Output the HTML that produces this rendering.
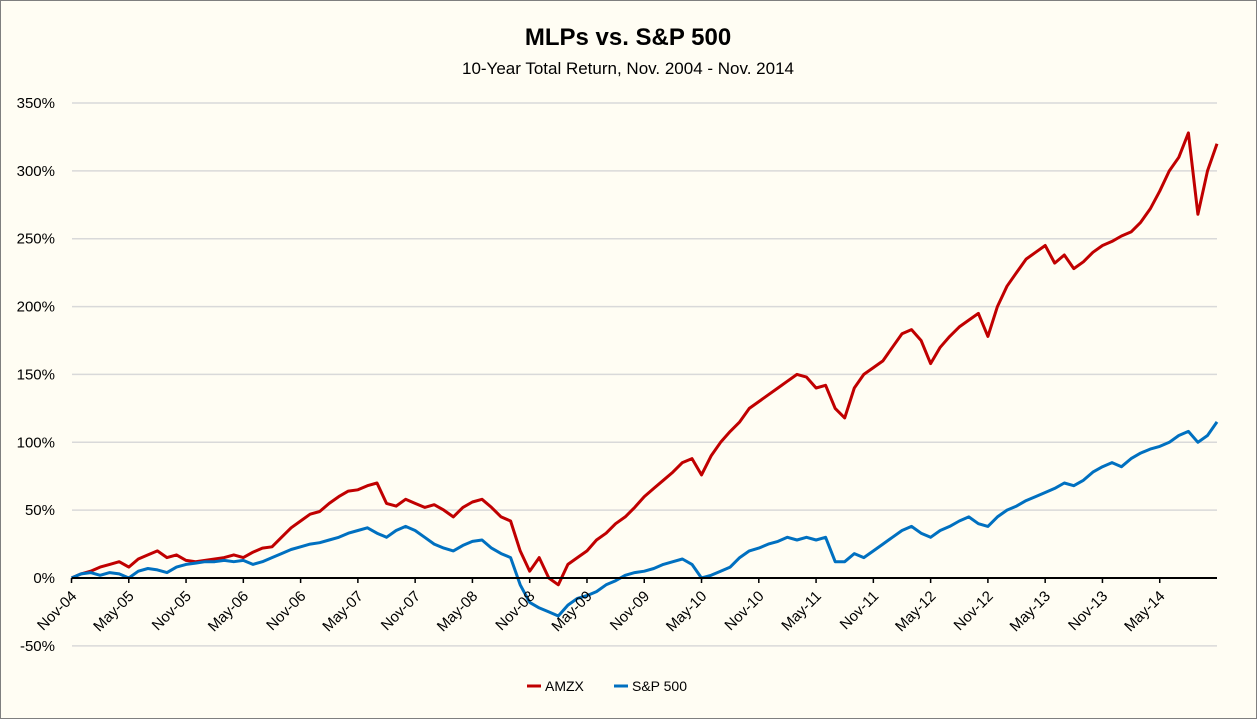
<!DOCTYPE html>
<html><head><meta charset="utf-8"><style>
html,body{margin:0;padding:0;background:#fffdf3;}
svg{display:block;font-family:"Liberation Sans",Calibri,sans-serif;}
</style></head><body>
<svg id="chart" width="1257" height="719">
<rect x="0.5" y="0.5" width="1256" height="718" fill="#fffdf3" stroke="#7f7f7f"/>
<text x="628" y="45" text-anchor="middle" font-size="24" font-weight="bold" fill="#000">MLPs vs. S&amp;P 500</text>
<text x="628" y="74" text-anchor="middle" font-size="17" fill="#000">10-Year Total Return, Nov. 2004 - Nov. 2014</text>
<g id="grid"></g><g id="ylabels"></g><g id="series"></g><g id="xaxis"></g>
<g>
<line x1="527" y1="686" x2="541" y2="686" stroke="#c00000" stroke-width="3"/>
<text x="545" y="691" font-size="14">AMZX</text>
<line x1="614" y1="686" x2="628" y2="686" stroke="#0070c0" stroke-width="3"/>
<text x="632" y="691" font-size="14">S&amp;P 500</text>
</g>
</svg>
<script>
const xTickLabels=["Nov-04","May-05","Nov-05","May-06","Nov-06","May-07","Nov-07","May-08","Nov-08","May-09","Nov-09","May-10","Nov-10","May-11","Nov-11","May-12","Nov-12","May-13","Nov-13","May-14"];
const yTicks=[-50,0,50,100,150,200,250,300,350];
const amzx=[0,3,5,8,10,12,8,14,17,20,15,17,13,12,13,14,15,17,15,19,22,23,30,37,42,47,49,55,60,64,65,68,70,55,53,58,55,52,54,50,45,52,56,58,52,45,42,20,5,15,0,-5,10,15,20,28,33,40,45,52,60,66,72,78,85,88,76,90,100,108,115,125,130,135,140,145,150,148,140,142,125,118,140,150,155,160,170,180,183,175,158,170,178,185,190,195,178,200,215,225,235,240,245,232,238,228,233,240,245,248,252,255,262,272,285,300,310,328,268,300,320];
const sp500=[0,3,4,2,4,3,0,5,7,6,4,8,10,11,12,12,13,12,13,10,12,15,18,21,23,25,26,28,30,33,35,37,33,30,35,38,35,30,25,22,20,24,27,28,22,18,15,-5,-18,-22,-25,-28,-20,-15,-13,-10,-5,-2,2,4,5,7,10,12,14,10,0,2,5,8,15,20,22,25,27,30,28,30,28,30,12,12,18,15,20,25,30,35,38,33,30,35,38,42,45,40,38,45,50,53,57,60,63,66,70,68,72,78,82,85,82,88,92,95,97,100,105,108,100,105,115];
const NS="http://www.w3.org/2000/svg";
const X0=71.5,XEND=1217,Y0=578,PPP=475/350;
const nMonths=amzx.length-1;
const xs=m=>X0+(XEND-X0)*m/nMonths;
const ys=v=>Y0-v*PPP;
function mk(t,a,p){const e=document.createElementNS(NS,t);for(const k in a)e.setAttribute(k,a[k]);p.appendChild(e);return e;}
const grid=document.getElementById('grid'),yl=document.getElementById('ylabels');
yTicks.forEach(v=>{
  if(v!==0){const g=mk('line',{x1:72,x2:1217,y1:ys(v),y2:ys(v),stroke:'#d9d9d9','stroke-width':1.5},grid);
  
  }
  const t=mk('text',{x:55,y:ys(v)+5,'text-anchor':'end','font-size':15},yl);t.textContent=v+'%';
  
  
});
const ser=document.getElementById('series');
function line(arr,col,name){
  const d=arr.map((v,i)=>(i?'L':'M')+xs(i).toFixed(1)+','+ys(v).toFixed(1)).join('');
  const p=mk('path',{d:d,fill:'none',stroke:col,'stroke-width':3,'stroke-linejoin':'round'},ser);
  
  
}
line(amzx,'#c00000','amzx-line');
line(sp500,'#0070c0','sp500-line');
const xa=document.getElementById('xaxis');
const ax=mk('line',{x1:72,x2:1217,y1:Y0,y2:Y0,stroke:'#000','stroke-width':2},xa);


xTickLabels.forEach((s,i)=>{
  const x=xs(i*6);
  mk('line',{x1:x,x2:x,y1:Y0,y2:Y0+5,stroke:'#000','stroke-width':1.5},xa);
  const tx=x+6,ty=Y0+19;
  const t=mk('text',{x:tx,y:ty,'text-anchor':'end','font-size':15,transform:'rotate(-45 '+tx+' '+ty+')'},xa);
  t.textContent=s;
  
  
});
</script>
</body></html>
